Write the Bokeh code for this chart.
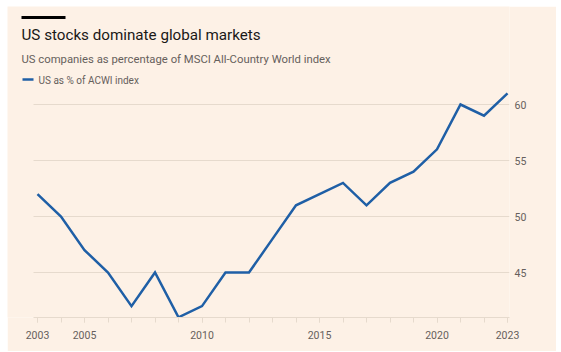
from bokeh.plotting import figure
from bokeh.models import Range1d, FixedTicker
from bokeh.core.properties import value
from bokeh.embed import file_html
from bokeh.resources import INLINE

# ---- data ----
years = [2003, 2004, 2005, 2006, 2007, 2008, 2009, 2010, 2011, 2012, 2013,
         2014, 2015, 2016, 2017, 2018, 2019, 2020, 2021, 2022, 2023]
us_share = [52, 50, 47, 45, 42, 45, 41, 42, 45, 45, 48,
            51, 52, 53, 51, 53, 54, 56, 60, 59, 61]
x_tick_labels = [2003, 2005, 2010, 2015, 2020, 2023]
y_ticks = [45, 50, 55, 60]

title = "US stocks dominate global markets"
subtitle = "US companies as percentage of MSCI All-Country World index"
series_name = "US as % of ACWI index"

BG = "#fdf1e6"
BLUE = "#1f5fa6"
GRID = "#e6dacd"
GREY_TEXT = "#66605c"
FONT = "Roboto"

# ---- layout geometry (page pixels) ----
PX_PER_YEAR = 23.5
PX_PER_UNIT = 11.2
X0_PAGE, X0_VAL = 37.0, 2003     # page x of first year
Y0_PAGE, Y0_VAL = 104.0, 60      # page y of the 60 gridline
FRAME_L, FRAME_T, FRAME_R, FRAME_B = 7, 6, 509, 317
AX_L = 33                        # left end of axis / gridlines


def xv(px):
    return X0_VAL + (px - X0_PAGE) / PX_PER_YEAR


def yv(py):
    return Y0_VAL - (py - Y0_PAGE) / PX_PER_UNIT


p = figure(width=549, height=345,
           x_range=Range1d(xv(FRAME_L), xv(FRAME_R)),
           y_range=Range1d(yv(FRAME_B), yv(FRAME_T)),
           y_axis_location="right", toolbar_location=None, output_backend="svg",
           min_border_left=FRAME_L - 7, min_border_top=FRAME_T - 6,
           min_border_right=556 - FRAME_R, min_border_bottom=351 - FRAME_B,
           margin=(6, 5, 1, 7))
p.outline_line_color = None
p.background_fill_color = BG
p.border_fill_color = BG
p.grid.visible = False

# gridlines (start at the left end of the x axis, not the frame edge)
p.segment(x0=xv(AX_L), x1=xv(FRAME_R), y0=y_ticks, y1=y_ticks,
          line_color=GRID, line_width=1, level="underlay")

# series
p.line(years, us_share, line_color=BLUE, line_width=2.5, line_join="miter")

# x axis
p.xaxis.bounds = (xv(AX_L), xv(FRAME_R))
p.xaxis.ticker = FixedTicker(ticks=x_tick_labels, minor_ticks=years)
p.xaxis.axis_line_color = GRID
p.xaxis.major_tick_line_color = GRID
p.xaxis.minor_tick_line_color = GRID
p.xaxis.major_tick_in = 0
p.xaxis.major_tick_out = 5
p.xaxis.minor_tick_in = 0
p.xaxis.minor_tick_out = 5
p.xaxis.major_label_standoff = 8
p.xaxis.major_label_text_font = FONT
p.xaxis.major_label_text_font_size = "10.5px"
p.xaxis.major_label_text_color = GREY_TEXT

# y axis (right)
p.yaxis.ticker = FixedTicker(ticks=y_ticks)
p.yaxis.axis_line_color = None
p.yaxis.major_tick_line_color = None
p.yaxis.minor_tick_line_color = None
p.yaxis.major_tick_out = 0
p.yaxis.major_tick_in = 0
p.yaxis.major_label_standoff = 5
p.yaxis.major_label_text_font = FONT
p.yaxis.major_label_text_font_size = "10.5px"
p.yaxis.major_label_text_color = GREY_TEXT

# ---- header ----
p.line(x=[xv(21), xv(65)], y=[yv(17), yv(17)], line_color="#000000", line_width=3)
p.text(x=[xv(21)], y=[yv(34)], text=[title], text_font=value(FONT),
       text_font_size="15.2px", text_color="#1a1817", text_baseline="middle")
p.text(x=[xv(21)], y=[yv(58.7)], text=[subtitle], text_font=value(FONT),
       text_font_size="11.3px", text_color=GREY_TEXT, text_baseline="middle")
p.line(x=[xv(22), xv(33)], y=[yv(79), yv(79)], line_color=BLUE, line_width=2.5)
p.text(x=[xv(38)], y=[yv(79.5)], text=[series_name], text_font=value(FONT),
       text_font_size="10px", text_color=GREY_TEXT, text_baseline="middle")

open("out.html", "w").write(file_html(p, INLINE))
